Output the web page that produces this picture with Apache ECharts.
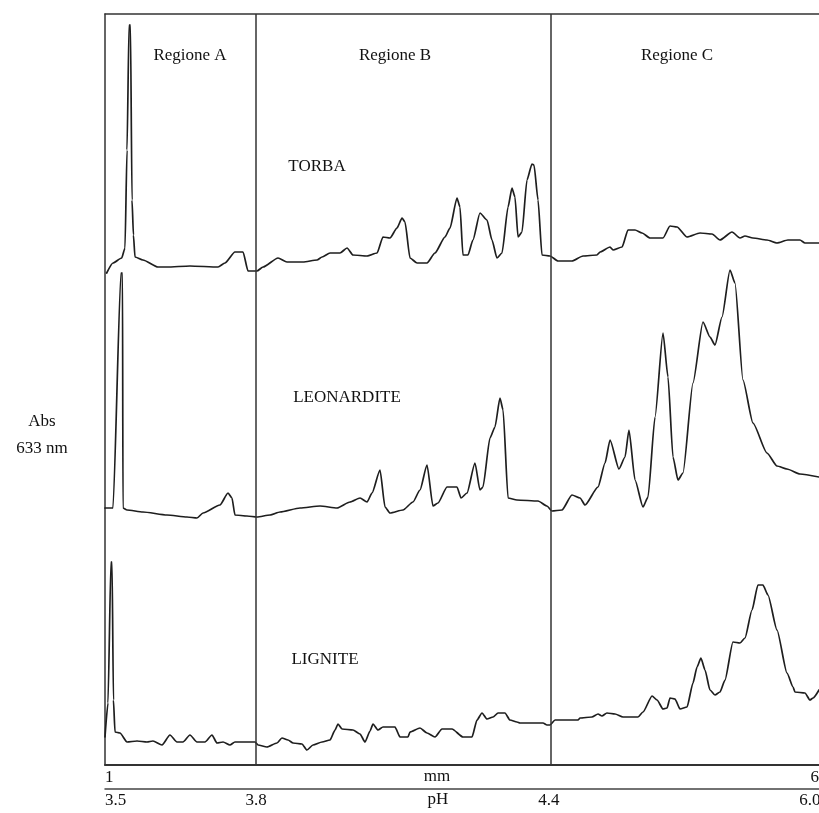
<!DOCTYPE html>
<html>
<head>
<meta charset="utf-8">
<script src="https://cdn.jsdelivr.net/npm/echarts@6/dist/echarts.min.js"></script>
<style>
html,body{margin:0;padding:0;background:#fff;}
#chart{width:819px;height:813px;}
</style>
</head>
<body>
<div id="chart"></div>
<script>
// x in mm (1..61), y in arbitrary absorbance units (offset-stacked traces)
const torba = [
[1.14,49.2],[1.67,50.2],[2.40,50.7],[2.68,51.7],[2.85,61.5],[3.02,74.0],[3.14,74.0],[3.27,56.5],[3.39,53.0],
[3.52,50.8],[4.19,50.5],[5.45,49.8],[6.21,49.8],[8.14,49.9],[10.50,49.8],[11.08,50.2],[11.92,51.3],[12.60,51.3],
[13.02,49.4],[13.77,49.4],[14.28,49.8],[15.54,50.7],[16.29,50.3],[17.64,50.3],[18.82,50.5],[19.24,50.8],[19.91,51.2],
[20.75,51.2],[21.34,51.7],[21.84,51.0],[23.02,50.9],[23.86,51.2],[24.36,52.8],[24.95,52.7],[25.54,53.7],[25.96,54.7],
[26.21,54.3],[26.63,50.7],[27.22,50.2],[28.06,50.2],[28.73,51.2],[29.57,52.8],[29.99,53.7],[30.58,56.7],[30.83,55.8],
[31.08,51.0],[31.50,51.0],[31.92,52.5],[32.51,55.2],[33.10,54.5],[33.52,52.5],[33.94,50.7],[34.36,51.2],[34.87,55.8],
[35.20,57.7],[35.45,56.8],[35.71,52.8],[36.04,53.3],[36.46,58.5],[36.88,60.1],[37.05,60.0],[37.39,56.5],[37.72,51.0],
[38.39,50.9],[39.07,50.4],[40.24,50.4],[41.17,50.9],[42.34,51.0],[42.60,51.3],[43.44,51.8],[43.69,51.5],[44.45,51.8],
[44.95,53.5],[45.54,53.5],[46.13,53.2],[46.80,52.7],[47.89,52.7],[48.48,53.9],[49.07,53.8],[49.91,52.8],[51.00,53.2],
[52.01,53.1],[52.68,52.5],[53.69,53.3],[54.36,52.7],[54.78,52.9],[55.45,52.7],[56.63,52.5],[57.47,52.2],[58.39,52.5],
[59.40,52.5],[59.82,52.2],[61.00,52.2]
];
const leonardite = [
[1.00,25.7],[1.67,25.7],[2.34,49.2],[2.47,49.2],[2.51,25.7],[2.85,25.5],[4.19,25.3],[6.21,25.0],[7.89,24.8],
[8.73,24.7],[9.24,25.2],[10.66,26.0],[11.34,27.2],[11.67,26.7],[11.92,25.0],[12.93,24.9],[13.77,24.8],[14.87,25.0],
[15.71,25.3],[17.39,25.7],[19.07,25.9],[20.50,25.7],[21.59,26.3],[22.43,26.7],[23.02,26.3],[23.44,27.2],[24.11,29.5],
[24.53,25.8],[24.95,25.2],[26.04,25.5],[26.88,26.3],[27.47,27.5],[28.06,30.0],[28.56,25.9],[28.98,26.2],[29.74,27.8],
[30.58,27.8],[30.92,26.7],[31.42,27.2],[32.09,30.2],[32.51,27.5],[32.76,27.8],[33.35,32.7],[33.77,33.8],[34.19,36.7],
[34.45,35.5],[34.87,26.7],[35.62,26.5],[37.39,26.4],[38.14,25.9],[38.56,25.4],[39.40,25.5],[40.24,27.0],[40.92,26.7],
[41.34,26.0],[42.43,27.8],[43.02,30.2],[43.44,32.5],[44.19,29.6],[44.70,30.8],[45.03,33.5],[45.54,28.5],[46.21,25.8],
[46.63,26.8],[47.22,34.8],[47.89,43.2],[48.31,38.8],[48.73,30.8],[49.15,28.5],[49.57,29.2],[50.41,38.2],[51.25,44.3],
[51.84,42.8],[52.26,42.0],[52.85,44.8],[53.52,49.5],[53.94,48.2],[54.61,38.5],[55.45,34.2],[56.63,31.2],[57.47,29.9],
[58.31,29.6],[59.40,29.1],[61.00,28.8]
];
const lignite = [
[1.00,2.8],[1.25,6.2],[1.50,20.3],[1.59,20.3],[1.71,6.5],[1.84,3.3],[2.26,3.2],[2.85,2.3],[3.69,2.4],[4.53,2.3],
[5.03,2.4],[5.79,2.0],[6.46,3.0],[7.05,2.3],[7.55,2.3],[8.14,3.0],[8.73,2.3],[9.40,2.3],[9.99,3.0],[10.41,2.2],
[10.92,2.3],[11.50,2.0],[11.92,2.3],[13.61,2.3],[13.86,2.0],[14.61,1.8],[15.45,2.2],[15.87,2.7],[16.38,2.5],[16.80,2.2],
[17.55,2.1],[17.97,1.5],[18.48,2.0],[19.24,2.3],[19.91,2.5],[20.33,3.5],[20.58,4.1],[20.92,3.6],[21.84,3.5],[22.43,3.1],
[22.85,2.3],[23.27,3.4],[23.52,4.1],[23.94,3.5],[24.36,3.8],[25.37,3.8],[25.79,2.8],[26.46,2.8],[26.63,3.3],[27.47,3.7],
[28.06,3.2],[28.73,2.8],[29.32,3.6],[30.16,3.6],[31.08,2.8],[31.84,2.8],[32.26,4.5],[32.68,5.2],[33.10,4.6],[33.61,4.8],
[34.03,5.2],[34.61,5.2],[35.03,4.5],[35.62,4.3],[35.87,4.2],[37.81,4.2],[38.14,4.0],[38.39,4.0],[38.82,4.5],[40.75,4.5],
[40.92,4.7],[41.92,4.8],[42.43,5.1],[42.76,4.9],[43.18,5.2],[43.86,5.1],[44.53,4.8],[45.79,4.8],[46.21,5.3],[46.97,6.9],
[47.39,6.5],[47.89,5.6],[48.23,5.7],[48.48,6.7],[48.90,6.6],[49.32,5.6],[49.91,5.8],[50.41,8.2],[50.75,9.8],[51.08,10.7],
[51.42,9.5],[51.84,7.5],[52.26,7.0],[52.68,7.3],[53.10,8.5],[53.77,12.3],[54.36,12.2],[54.78,12.7],[55.37,15.5],[55.87,18.0],
[56.29,18.0],[56.71,17.0],[57.47,13.5],[58.31,9.2],[58.82,7.8],[58.98,7.3],[59.82,7.2],[60.24,6.5],[60.50,6.7],[61.00,7.5]
];
// region boundaries (mm)
const regionBounds = [13.69, 38.48];
// tick labels
const mmTicks = [1, 61];
const mmTickLabels = ['1', '61'];
const phTicks = [1, 13.69, 38.3, 60.24];
const phTickLabels = ['3.5', '3.8', '4.4', '6.0'];

const FONT = 'Liberation Serif';
const FS = 17;
const txt = (text, x, y) => ({
  type: 'text', x: x, y: y,
  style: { text: text, font: FS + 'px "' + FONT + '"', fill: '#111', align: 'center', verticalAlign: 'middle' }
});

const chart = echarts.init(document.getElementById('chart'));
const lineStyle = { color: '#1e1e1e', width: 1.7, join: 'round', cap: 'round' };
const common = { type: 'line', showSymbol: false, lineStyle: lineStyle, smooth: 0.2, smoothMonotone: 'x' };
chart.setOption({
  animation: false,
  backgroundColor: '#fff',
  grid: { left: 105, right: 0, top: 14, bottom: 48, containLabel: false, outerBoundsMode: 'none' },
  xAxis: [
    {
      type: 'value', position: 'bottom', min: 1, max: 61,
      axisLine: { show: true, lineStyle: { color: '#333', width: 2 } },
      axisTick: { show: false }, splitLine: { show: false },
      axisLabel: {
        customValues: mmTicks, margin: 4, color: '#111', fontSize: FS, fontFamily: FONT,
        alignMinLabel: 'left', alignMaxLabel: 'center', hideOverlap: false,
        formatter: v => mmTickLabels[mmTicks.indexOf(v)] ?? ''
      }
    },
    {
      type: 'value', position: 'bottom', offset: 24, min: 1, max: 61,
      axisLine: { show: true, lineStyle: { color: '#444', width: 1.5 } },
      axisTick: { show: false }, splitLine: { show: false },
      axisLabel: {
        customValues: phTicks, margin: 3, color: '#111', fontSize: FS, fontFamily: FONT,
        alignMinLabel: 'left', hideOverlap: false,
        formatter: v => {
          let best = 0;
          phTicks.forEach((t, i) => { if (Math.abs(t - v) < Math.abs(phTicks[best] - v)) best = i; });
          return phTickLabels[best];
        }
      }
    },
    {
      type: 'value', position: 'top', min: 1, max: 61,
      axisLine: { show: true, lineStyle: { color: '#333', width: 1.5 } },
      axisTick: { show: false }, axisLabel: { show: false }, splitLine: { show: false }
    }
  ],
  yAxis: {
    type: 'value', min: 0, max: 75.1,
    axisLine: { show: true, lineStyle: { color: '#333', width: 1.5 } },
    axisTick: { show: false }, axisLabel: { show: false }, splitLine: { show: false }
  },
  series: [
    Object.assign({
      name: 'TORBA', data: torba,
      markLine: {
        silent: true, symbol: 'none', label: { show: false },
        lineStyle: { color: '#333', width: 1.5, type: 'solid' },
        data: regionBounds.map(v => ({ xAxis: v }))
      }
    }, common),
    Object.assign({ name: 'LEONARDITE', data: leonardite }, common),
    Object.assign({ name: 'LIGNITE', data: lignite }, common)
  ],
  graphic: [
    txt('Regione A', 190, 56),
    txt('Regione B', 395, 56),
    txt('Regione C', 677, 56),
    txt('TORBA', 317, 167),
    txt('LEONARDITE', 347, 398),
    txt('LIGNITE', 325, 660),
    txt('Abs', 42, 422),
    txt('633 nm', 42, 449),
    txt('mm', 437, 777),
    txt('pH', 438, 800)
  ]
});
</script>
</body>
</html>
